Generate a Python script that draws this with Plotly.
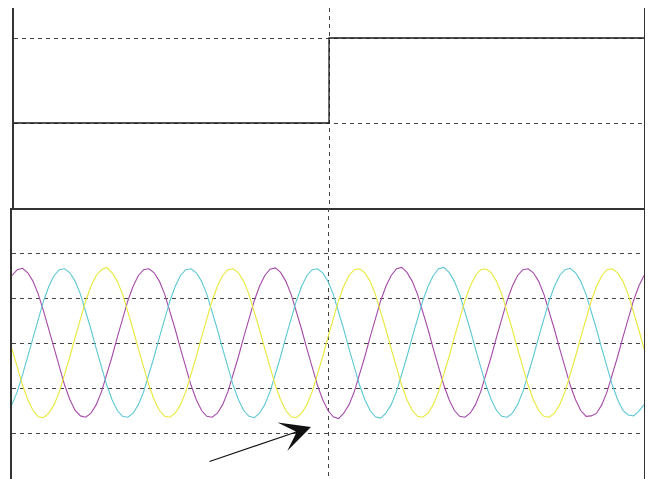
import plotly.graph_objects as go

# top panel: step command
step_time = [0.0, 0.5, 1.0]
step_level = [1.0, 2.0, 2.0]

# bottom panel: three phase currents, sampled every 1/120 of the window
sample_dt = 1 / 120
phase_a = [1.50, 1.63, 1.66, 1.56, 1.37, 1.08, 0.71, 0.30, -0.13, -0.55, -0.94, -1.26,
           -1.50, -1.62, -1.65, -1.56, -1.37, -1.08, -0.71, -0.30, 0.13, 0.55, 0.94, 1.26,
           1.50, 1.63, 1.65, 1.56, 1.37, 1.08, 0.71, 0.30, -0.13, -0.55, -0.94, -1.26,
           -1.50, -1.63, -1.65, -1.56, -1.37, -1.08, -0.71, -0.30, 0.13, 0.55, 0.94, 1.26,
           1.50, 1.64, 1.67, 1.57, 1.37, 1.08, 0.71, 0.30, -0.13, -0.55, -0.94, -1.26,
           -1.50, -1.64, -1.68, -1.56, -1.37, -1.08, -0.71, -0.30, 0.13, 0.55, 0.94, 1.26,
           1.50, 1.65, 1.68, 1.57, 1.37, 1.08, 0.71, 0.30, -0.13, -0.55, -0.94, -1.26,
           -1.50, -1.63, -1.65, -1.56, -1.37, -1.08, -0.71, -0.30, 0.13, 0.55, 0.94, 1.26,
           1.50, 1.63, 1.65, 1.56, 1.37, 1.08, 0.71, 0.30, -0.13, -0.55, -0.94, -1.26,
           -1.50, -1.63, -1.62, -1.56, -1.37, -1.08, -0.71, -0.30, 0.13, 0.55, 0.94, 1.26,
           1.50]
phase_b = [-1.37, -1.08, -0.71, -0.30, 0.13, 0.55, 0.94, 1.26, 1.50, 1.63, 1.65, 1.56,
           1.37, 1.08, 0.71, 0.30, -0.13, -0.55, -0.94, -1.26, -1.50, -1.63, -1.65, -1.56,
           -1.37, -1.08, -0.71, -0.30, 0.13, 0.55, 0.94, 1.26, 1.50, 1.63, 1.65, 1.56,
           1.37, 1.08, 0.71, 0.30, -0.13, -0.55, -0.94, -1.26, -1.50, -1.63, -1.66, -1.56,
           -1.37, -1.08, -0.71, -0.30, 0.13, 0.55, 0.94, 1.26, 1.50, 1.63, 1.65, 1.56,
           1.37, 1.08, 0.71, 0.30, -0.13, -0.55, -0.94, -1.26, -1.50, -1.64, -1.67, -1.56,
           -1.37, -1.08, -0.71, -0.30, 0.13, 0.55, 0.94, 1.26, 1.50, 1.65, 1.68, 1.57,
           1.37, 1.08, 0.71, 0.30, -0.13, -0.55, -0.94, -1.26, -1.50, -1.63, -1.65, -1.56,
           -1.37, -1.08, -0.71, -0.30, 0.13, 0.55, 0.94, 1.26, 1.50, 1.63, 1.66, 1.56,
           1.37, 1.08, 0.71, 0.30, -0.13, -0.55, -0.94, -1.26, -1.50, -1.60, -1.62, -1.52,
           -1.37]
phase_c = [-0.13, -0.55, -0.94, -1.26, -1.50, -1.64, -1.66, -1.56, -1.37, -1.08, -0.71, -0.30,
           0.13, 0.55, 0.94, 1.26, 1.50, 1.63, 1.68, 1.56, 1.37, 1.08, 0.71, 0.30,
           -0.13, -0.55, -0.94, -1.26, -1.50, -1.63, -1.65, -1.56, -1.37, -1.08, -0.71, -0.30,
           0.13, 0.55, 0.94, 1.26, 1.50, 1.63, 1.65, 1.56, 1.37, 1.08, 0.71, 0.30,
           -0.13, -0.55, -0.94, -1.26, -1.50, -1.64, -1.66, -1.56, -1.37, -1.08, -0.71, -0.30,
           0.13, 0.55, 0.94, 1.26, 1.50, 1.63, 1.65, 1.56, 1.37, 1.08, 0.71, 0.30,
           -0.13, -0.55, -0.94, -1.26, -1.50, -1.63, -1.65, -1.56, -1.37, -1.08, -0.71, -0.30,
           0.13, 0.55, 0.94, 1.26, 1.50, 1.63, 1.65, 1.56, 1.37, 1.08, 0.71, 0.30,
           -0.13, -0.55, -0.94, -1.26, -1.50, -1.63, -1.65, -1.56, -1.37, -1.08, -0.71, -0.30,
           0.13, 0.55, 0.94, 1.26, 1.50, 1.63, 1.65, 1.56, 1.37, 1.08, 0.71, 0.30,
           -0.13]

# page body has an 8px margin, so the figure sits at (8, 8) in the window
OFF = 8
W, H = 653 - OFF, 479 - OFF
axis_col = "#333333"
grid_col = "#444444"


def px_x(v):
    return (v - OFF) / W


def px_y(v):
    return (H - (v - OFF)) / H


fig = go.Figure()

fig.add_trace(go.Scatter(x=step_time, y=step_level, mode="lines", line_shape="hv",
                         line=dict(color="#1a1a1a", width=1.3),
                         xaxis="x", yaxis="y", showlegend=False))

for vals, col in [(phase_a, "#a54aa8"), (phase_b, "#5cc8d4"), (phase_c, "#e8e83a")]:
    fig.add_trace(go.Scatter(y=vals, x0=0, dx=sample_dt, mode="lines",
                             line=dict(color=col, width=1.1),
                             xaxis="x2", yaxis="y2", showlegend=False))

grid = dict(showgrid=True, gridcolor=grid_col, griddash="4px,4px", gridwidth=1,
            showticklabels=False, ticks="", zeroline=False)

fig.update_layout(
    width=W, height=H,
    margin=dict(l=0, r=0, t=0, b=0),
    paper_bgcolor="white", plot_bgcolor="white",
    xaxis=dict(domain=[px_x(14), px_x(644)], range=[0, 1], tickvals=[0.5],
               showline=True, linecolor=axis_col, linewidth=2, anchor="y", **grid),
    yaxis=dict(domain=[px_y(208), px_y(8)], range=[0, 200 / 85], tickvals=[1, 2],
               showline=True, linecolor=axis_col, linewidth=1.5, mirror=True,
               anchor="x", **grid),
    xaxis2=dict(domain=[px_x(12), px_x(644)], range=[0, 1], tickvals=[0.5],
                showline=False, anchor="y2", **grid),
    yaxis2=dict(domain=[0, px_y(208)], range=[-136 / 45, 135 / 45],
                tickvals=[-2, -1, 0, 1, 2], showline=True, linecolor=axis_col,
                linewidth=1.5, mirror=True, anchor="x2", **grid),
)

# arrow pointing at the moment of the step change
fig.add_annotation(x=px_x(311), y=px_y(427), xref="paper", yref="paper",
                   ax=-103, ay=35, showarrow=True, arrowhead=3, arrowsize=4.2,
                   arrowwidth=1.2, arrowcolor="#111111", text="")

fig.write_html("out.html")
